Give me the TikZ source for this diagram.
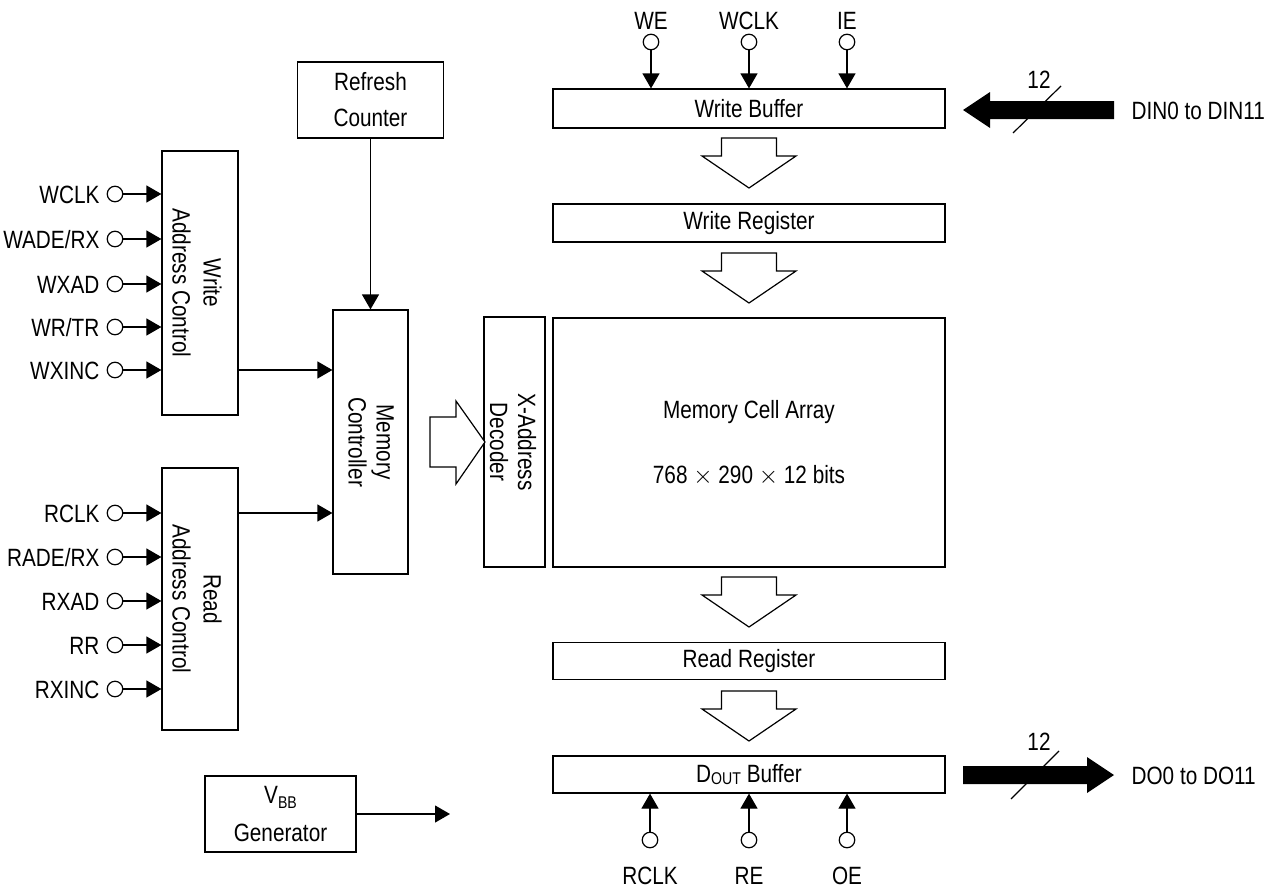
\documentclass[tikz,border=0pt]{standalone}
\usepackage{fontspec}
\setmainfont{Liberation Sans}[FakeStretch=0.83]
\usetikzlibrary{arrows.meta}
\begin{document}
\begin{tikzpicture}[x=1pt,y=-1pt, line width=1.2pt,
  every node/.style={font=\fontsize{25}{29}\selectfont, inner sep=0pt},
  blk/.style={draw, fill=white},
  pinc/.style={draw, circle, minimum size=15.5pt, inner sep=0pt, fill=white},
  sig/.style={-{Triangle[length=15pt,width=17pt]}},
  rtext/.style={rotate=-90, align=center},
  hdown/.pic={\draw[fill=white, line join=miter] (-27.5,0) -- (27.5,0) -- (27.5,18) -- (47,18) -- (0,50) -- (-47,18) -- (-27.5,18) -- cycle;}]
\useasboundingbox (0,0) rectangle (1272,889);

% central column
\node[blk, minimum width=392pt, minimum height=39pt] (wb) at (749,108.5) {Write Buffer};
\node[blk, minimum width=392pt, minimum height=38pt] (wr) at (749,223) {Write Register};
\node[blk, minimum width=392pt, minimum height=249pt, align=center] (mca) at (749,442.5) {Memory Cell Array\\[36pt]768 $\times$ 290 $\times$ 12 bits};
\node[blk, minimum width=392pt, minimum height=37pt] (rr) at (749,661) {Read Register};
\node[blk, minimum width=392pt, minimum height=37pt] (db) at (749,774.5) {D\raisebox{-2pt}{\fontsize{17}{17}\selectfont OUT} Buffer};
\node[blk, minimum width=61pt, minimum height=250pt] (xad) at (514.5,442) {};
\node[rtext] (xadt) at (513,442) {X-Address\\[-1pt]Decoder};

% left column
\node[blk, minimum width=146pt, minimum height=76pt, align=center] (rc) at (370.5,100) {Refresh\\[7pt]Counter};
\node[blk, minimum width=75pt, minimum height=264pt] (mc) at (370.5,442) {};
\node[rtext] (mct) at (371,442) {Memory\\[-1pt]Controller};
\node[blk, minimum width=76pt, minimum height=264pt] (wac) at (200,283) {};
\node[rtext] (wact) at (197,283) {Write\\[2pt]Address Control};
\node[blk, minimum width=76pt, minimum height=262pt] (rac) at (200,599) {};
\node[rtext] (ract) at (197,599) {Read\\[2pt]Address Control};
\node[blk, minimum width=151pt, minimum height=76pt, align=center] (vbb) at (280.5,814) {V\raisebox{-5pt}{\fontsize{17}{17}\selectfont BB}\\[9pt]Generator};
\coordinate (vbbout) at (450,814);

% connectors
\draw[sig] (rc.south) -- (mc.north);
\draw[sig] (wac.east |- 0,370) coordinate (wo) -- (wo -| mc.west);
\draw[sig] (rac.east |- 0,513) coordinate (ro) -- (ro -| mc.west);
\draw[sig] (vbb.east) -- (vbbout);

% hollow arrows
\pic at (749,138) {hdown};
\pic at (749,253) {hdown};
\pic at (749,577) {hdown};
\pic at (749,691) {hdown};
\draw[fill=white, line join=miter] (430,417) -- (456,417) -- (456,401) -- (485,442) -- (456,484) -- (456,467) -- (430,467) -- cycle;

% left pins (write)
\foreach \n/\y/\t in {a/194/{WCLK}, b/239/{WADE/RX}, c/284/{WXAD}, d/327/{WR/TR}, e/370/{WXINC}}{
  \node[pinc] (wp\n) at (115,\y) {};
  \node[anchor=base east] (wl\n) at (100,\y+9) {\t};
  \draw[sig] (wp\n) -- (wp\n -| wac.west);
}
% left pins (read)
\foreach \n/\y/\t in {a/513/{RCLK}, b/557/{RADE/RX}, c/601/{RXAD}, d/645/{RR}, e/689/{RXINC}}{
  \node[pinc] (rp\n) at (115,\y) {};
  \node[anchor=base east] (rl\n) at (100,\y+9) {\t};
  \draw[sig] (rp\n) -- (rp\n -| rac.west);
}
% top pins
\foreach \n/\x/\t in {a/651/WE, b/749/WCLK, c/847/IE}{
  \node[pinc] (tp\n) at (\x,42) {};
  \node[anchor=base] (tl\n) at (\x,29) {\t};
  \draw[sig] (tp\n) -- (tp\n |- wb.north);
}
% bottom pins
\foreach \n/\x/\t in {a/650/RCLK, b/749/RE, c/847/OE}{
  \node[pinc] (bp\n) at (\x,840) {};
  \node[anchor=base] (bl\n) at (\x,884) {\t};
  \draw[sig] (bp\n) -- (bp\n |- db.south);
}

% data buses
\fill (1114,101) -- (990,101) -- (990,92) -- (963,110) -- (990,128) -- (990,119) -- (1114,119) -- cycle;
\draw (1013,133) -- (1061,86);
\node (din12) at (1039,80) {12};
\node[anchor=base west] (dinl) at (1131,119) {DIN0 to DIN11};

\fill (963,766) -- (1087,766) -- (1087,757) -- (1114,775) -- (1087,793) -- (1087,784) -- (963,784) -- cycle;
\draw (1011,799) -- (1059,751);
\node (do12) at (1039,742) {12};
\node[anchor=base west] (dol) at (1131,784) {DO0 to DO11};
\end{tikzpicture}
\end{document}
